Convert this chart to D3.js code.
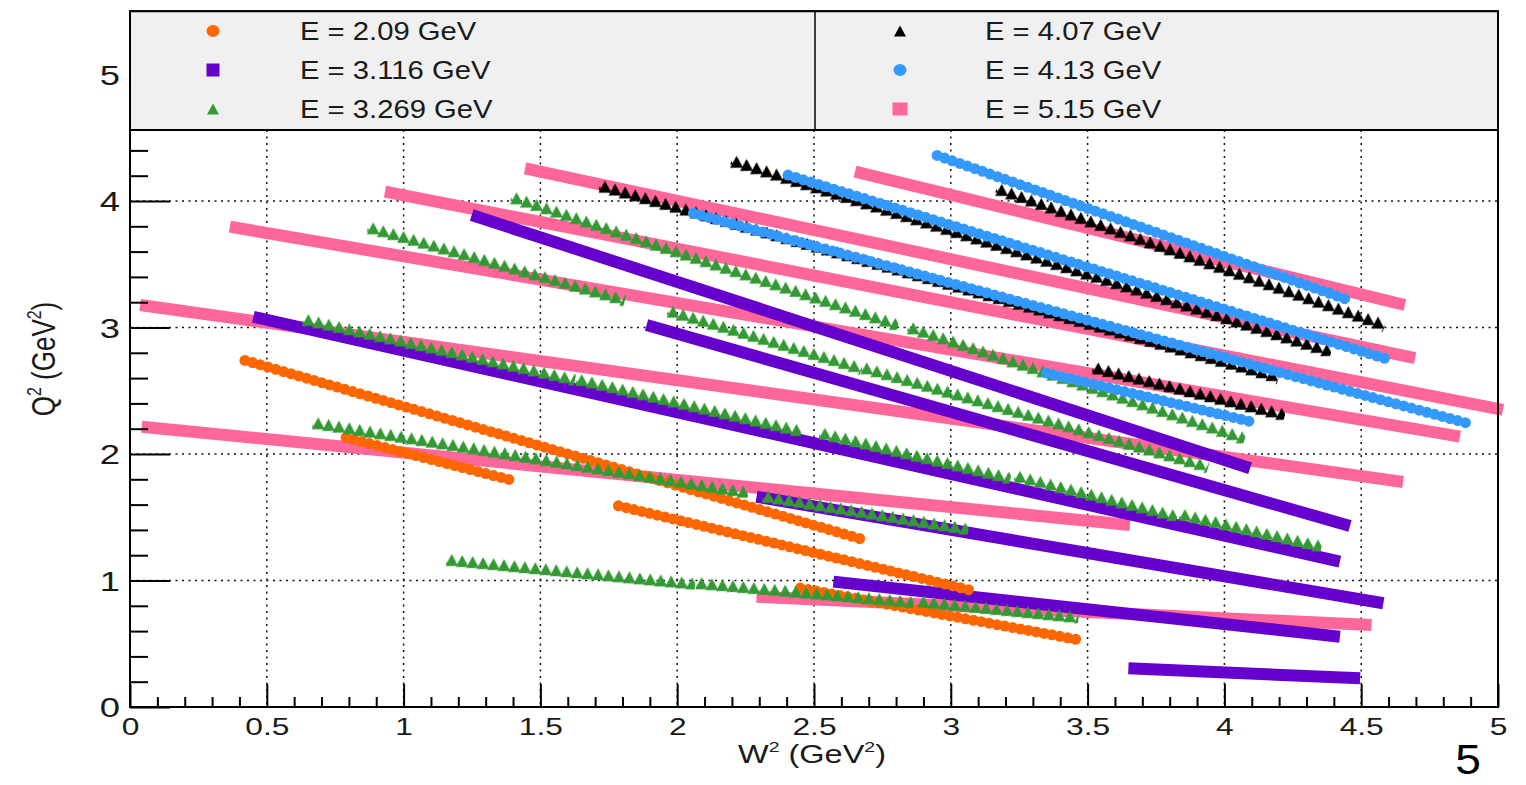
<!DOCTYPE html>
<html lang="en">
<head>
  <meta charset="UTF-8">
  <title>W2 vs Q2 coverage</title>
  <script src="https://d3js.org/d3.v7.min.js"></script>
  <style>
    body{
      margin:0;
      background:white;
      font-family: "Liberation Sans", Arial, Helvetica, sans-serif;
    }
  </style>
</head>
<body>
<div id="chart"></div>
<script>
// legend labels, one per beam energy
var energyLabels = ["E = 2.09 GeV", "E = 3.116 GeV", "E = 3.269 GeV", "E = 4.07 GeV", "E = 4.13 GeV", "E = 5.15 GeV"];

// every track is [W2 start, Q2 start, W2 end, Q2 end] (GeV^2)
var tracks209 = [
  [0.42, 2.74, 2.67, 1.33],
  [0.79, 2.13, 1.40, 1.79],
  [1.785, 1.59, 3.07, 0.925],
  [2.45, 0.94, 3.47, 0.53]
];
var tracks3116 = [
  [1.249, 3.889, 4.094, 1.887],
  [0.451, 3.085, 4.422, 1.149],
  [1.888, 3.020, 4.459, 1.431],
  [2.29, 1.662, 4.581, 0.820],
  [2.571, 0.991, 4.422, 0.556],
  [3.649, 0.306, 4.496, 0.227]
];
var tracks3269 = [
  [1.413, 4.021, 2.79, 3.033],
  [0.889, 3.784, 1.791, 3.23],
  [2.863, 2.993, 4.057, 2.137],
  [1.985, 3.125, 2.656, 2.69],
  [2.693, 2.677, 3.923, 1.913],
  [0.652, 3.059, 1.608, 2.598],
  [1.651, 2.585, 2.437, 2.19],
  [2.54, 2.16, 3.20, 1.82],
  [3.253, 1.82, 3.81, 1.518],
  [3.856, 1.518, 4.337, 1.28],
  [0.688, 2.243, 2.241, 1.702],
  [2.333, 1.662, 3.046, 1.413],
  [1.176, 1.162, 2.047, 0.978],
  [2.089, 0.978, 2.845, 0.833],
  [2.9, 0.833, 3.448, 0.714]
];
var tracks407 = [
  [2.217, 4.31, 4.373, 2.822],
  [1.736, 4.113, 4.18, 2.62],
  [3.186, 4.087, 4.569, 3.033],
  [3.539, 2.677, 4.203, 2.322]
];
var tracks413 = [
  [2.95, 4.36, 4.45, 3.22],
  [2.405, 4.205, 4.605, 2.743],
  [2.059, 3.903, 4.885, 2.245],
  [3.35, 2.64, 4.118, 2.245]
];
var tracks515 = [
  [2.65, 4.232, 4.66, 3.178],
  [1.444, 4.258, 4.697, 2.757],
  [0.932, 4.074, 5.018, 2.348],
  [0.365, 3.797, 4.861, 2.137],
  [0.037, 3.178, 4.653, 1.779],
  [0.043, 2.216, 3.655, 1.439],
  [2.29, 0.872, 4.538, 0.648]
];

// axis ticks and labels
var xTicks = [0, 0.5, 1, 1.5, 2, 2.5, 3, 3.5, 4, 4.5, 5];
var xTickLabels = ["0", "0.5", "1", "1.5", "2", "2.5", "3", "3.5", "4", "4.5", "5"];
var yTicks = [0, 1, 2, 3, 4, 5];
var yTickLabels = ["0", "1", "2", "3", "4", "5"];

// one style per energy (legend order)
var series = [
  {label: energyLabels[0], tracks: tracks209,  colour: "#ff6600", marker: "circle"},
  {label: energyLabels[1], tracks: tracks3116, colour: "#6600cc", marker: "square"},
  {label: energyLabels[2], tracks: tracks3269, colour: "#339933", marker: "triangle"},
  {label: energyLabels[3], tracks: tracks407,  colour: "#000000", marker: "triangle"},
  {label: energyLabels[4], tracks: tracks413,  colour: "#3399ff", marker: "circle"},
  {label: energyLabels[5], tracks: tracks515,  colour: "#ff6699", marker: "square"}
];
// order the tracks are painted in
var drawOrder = [5, 1, 0, 2, 3, 4];

var svgWidth = 1526, svgHeight = 785;
var plotLeft = 130, plotRight = 1498, plotBottom = 707, plotTop = 11.25;
var legendBottom = 130;

var x = d3.scaleLinear().domain([0, 5]).range([plotLeft, plotRight]);
var y = d3.scaleLinear().domain([0, 5.5]).range([plotBottom, plotTop]);

var svg = d3.select("#chart").append("svg")
  .attr("width", svgWidth)
  .attr("height", svgHeight);
var defs = svg.append("defs");

// dotted grid below the legend
var grid = svg.append("g").attr("stroke", "#111").attr("stroke-width", 1.5).attr("stroke-dasharray", "2,4.5");
grid.selectAll("line.v")
  .data(xTicks.filter(function(d){ return d > 0 && d < 5; }))
  .enter().append("line")
    .attr("x1", function(d){ return x(d); })
    .attr("x2", function(d){ return x(d); })
    .attr("y1", legendBottom)
    .attr("y2", plotBottom);
grid.selectAll("line.h")
  .data(yTicks.filter(function(d){ return d > 0 && y(d) > legendBottom; }))
  .enter().append("line")
    .attr("x1", plotLeft)
    .attr("x2", plotRight)
    .attr("y1", function(d){ return y(d); })
    .attr("y2", function(d){ return y(d); });

// triangle path centred on 0,0
function triPath(b, h){
  return "M" + (-b/2) + "," + (h/2) + "L" + (b/2) + "," + (h/2) + "L0," + (-h/2) + "Z";
}

var plot = svg.append("g");
var patternCount = 0;

function drawTrack(t, s){
  var x0 = x(t[0]), y0 = y(t[1]), x1 = x(t[2]), y1 = y(t[3]);
  if (s.marker == "circle"){
    plot.append("line")
      .attr("x1", x0).attr("y1", y0).attr("x2", x1).attr("y2", y1)
      .attr("stroke", s.colour)
      .attr("stroke-width", 11)
      .attr("stroke-linecap", "round")
      .attr("stroke-dasharray", "0,8");
  } else if (s.marker == "square"){
    plot.append("line")
      .attr("x1", x0).attr("y1", y0).attr("x2", x1).attr("y2", y1)
      .attr("stroke", s.colour)
      .attr("stroke-width", 12)
      .attr("stroke-linecap", "butt");
  } else {
    // upright triangles repeated along the track with a rotated pattern
    var step = 10.5;
    var band = 22;
    var ang = Math.atan2(y1 - y0, x1 - x0) * 180 / Math.PI;
    var id = "tri" + (patternCount++);
    var pat = defs.append("pattern")
      .attr("id", id)
      .attr("patternUnits", "userSpaceOnUse")
      .attr("width", step)
      .attr("height", band)
      .attr("patternTransform", "translate(" + x0 + "," + y0 + ") rotate(" + ang + ") translate(" + (-step/2) + "," + (-band/2) + ")");
    [-step, 0, step].forEach(function(off){
      pat.append("path")
        .attr("d", triPath(13, 12))
        .attr("fill", s.colour)
        .attr("transform", "translate(" + (step/2 + off) + "," + (band/2) + ") rotate(" + (-ang) + ")");
    });
    var len = Math.sqrt((x1 - x0) * (x1 - x0) + (y1 - y0) * (y1 - y0));
    var ux = (x1 - x0) / len, uy = (y1 - y0) / len;
    plot.append("line")
      .attr("x1", x0 - ux * step / 2).attr("y1", y0 - uy * step / 2)
      .attr("x2", x1 + ux * step / 2).attr("y2", y1 + uy * step / 2)
      .attr("stroke", "url(#" + id + ")")
      .attr("stroke-width", band)
      .attr("stroke-linecap", "butt");
  }
}

drawOrder.forEach(function(i){
  series[i].tracks.forEach(function(t){ drawTrack(t, series[i]); });
});

// x axis: major and minor ticks pointing up
var xMinor = d3.range(0, 5.001, 0.1).filter(function(d){ return Math.abs(d * 2 - Math.round(d * 2)) > 0.01; });
svg.append("g")
  .attr("transform", "translate(0," + plotBottom + ")")
  .call(d3.axisBottom(x).tickValues(xMinor).tickSizeInner(-10).tickSizeOuter(0).tickFormat(""))
  .call(function(g){ g.select(".domain").remove(); g.selectAll("line").attr("stroke-width", 2); });
var xAxis = svg.append("g")
  .attr("transform", "translate(0," + plotBottom + ")")
  .call(d3.axisBottom(x).tickValues(xTicks).tickSizeInner(-23).tickSizeOuter(0).tickPadding(11.5)
    .tickFormat(function(d, i){ return xTickLabels[i]; }));
xAxis.select(".domain").remove();
xAxis.selectAll("line").attr("stroke-width", 2);
xAxis.selectAll("text")
  .attr("font-size", 23)
  .attr("font-family", "Liberation Sans, Arial, sans-serif")
  .attr("fill", "#1a1a1a")
  .attr("transform", "scale(1.38,1)");

// y axis: major and minor ticks pointing right
var yMinor = d3.range(0, 5.5, 0.2).filter(function(d){ return Math.abs(d - Math.round(d)) > 0.01; });
svg.append("g")
  .attr("transform", "translate(" + plotLeft + ",0)")
  .call(d3.axisLeft(y).tickValues(yMinor).tickSizeInner(-18).tickSizeOuter(0).tickFormat(""))
  .call(function(g){ g.select(".domain").remove(); g.selectAll("line").attr("stroke-width", 2); });
var yAxis = svg.append("g")
  .attr("transform", "translate(" + plotLeft + ",0)")
  .call(d3.axisLeft(y).tickValues(yTicks).tickSizeInner(-40).tickSizeOuter(0).tickPadding(10)
    .tickFormat(function(d, i){ return yTickLabels[i]; }));
yAxis.select(".domain").remove();
yAxis.selectAll("line").attr("stroke-width", 2);
yAxis.selectAll("text")
  .attr("font-size", 28)
  .attr("font-family", "Liberation Sans, Arial, sans-serif")
  .attr("fill", "#1a1a1a")
  .attr("x", 0)
  .attr("dy", "0.35em")
  .attr("transform", "translate(-10,0) scale(1.3,1)");

// frame
svg.append("rect")
  .attr("x", plotLeft).attr("y", plotTop)
  .attr("width", plotRight - plotLeft).attr("height", plotBottom - plotTop)
  .attr("fill", "none")
  .attr("stroke", "black")
  .attr("stroke-width", 2);

// legend box across the top
var legend = svg.append("g");
legend.append("rect")
  .attr("x", plotLeft).attr("y", plotTop)
  .attr("width", plotRight - plotLeft).attr("height", legendBottom - plotTop)
  .attr("fill", "#f0f0f0")
  .attr("stroke", "black")
  .attr("stroke-width", 2);
legend.append("line")
  .attr("x1", 815).attr("x2", 815)
  .attr("y1", plotTop).attr("y2", legendBottom)
  .attr("stroke", "black").attr("stroke-width", 1.5);

var rowY = [31, 70, 109];
series.forEach(function(s, i){
  var col = i < 3 ? 0 : 1;
  var mx = col == 0 ? 213 : 900;
  var tx = col == 0 ? 300 : 985;
  var cy = rowY[i % 3];
  if (s.marker == "circle"){
    legend.append("ellipse").attr("cx", mx).attr("cy", cy).attr("rx", 6.5).attr("ry", 6).attr("fill", s.colour);
  } else if (s.marker == "square"){
    var w = col == 0 ? 13 : 15;
    legend.append("rect").attr("x", mx - w/2).attr("y", cy - 6.5).attr("width", w).attr("height", 13).attr("fill", s.colour);
  } else {
    legend.append("path").attr("d", triPath(12, 11)).attr("transform", "translate(" + mx + "," + cy + ")").attr("fill", s.colour);
  }
  legend.append("text")
    .attr("transform", "translate(" + tx + "," + (cy + 9) + ") scale(1.17,1)")
    .attr("font-size", 25)
    .attr("fill", "#1a1a1a")
    .text(s.label);
});

// axis titles
var xt = svg.append("text")
  .attr("transform", "translate(812,763) scale(1.3,1)")
  .attr("text-anchor", "middle")
  .attr("font-size", 25)
  .attr("fill", "#1a1a1a");
xt.append("tspan").text("W");
xt.append("tspan").attr("font-size", 15).attr("dy", -11).text("2");
xt.append("tspan").attr("dy", 11).text(" (GeV");
xt.append("tspan").attr("font-size", 15).attr("dy", -11).text("2");
xt.append("tspan").attr("dy", 11).text(")");

var yt = svg.append("text")
  .attr("transform", "translate(55,359) scale(1.3,1) rotate(-90)")
  .attr("text-anchor", "middle")
  .attr("font-size", 26)
  .attr("fill", "#1a1a1a");
yt.append("tspan").text("Q");
yt.append("tspan").attr("font-size", 16).attr("dy", -11).text("2");
yt.append("tspan").attr("dy", 11).text(" (GeV");
yt.append("tspan").attr("font-size", 16).attr("dy", -11).text("2");
yt.append("tspan").attr("dy", 11).text(")");

// slide page number
svg.append("text")
  .attr("transform", "translate(1468,774) scale(1.1,1)")
  .attr("text-anchor", "middle")
  .attr("font-size", 42)
  .attr("fill", "black")
  .text("5");
</script>
</body>
</html>
